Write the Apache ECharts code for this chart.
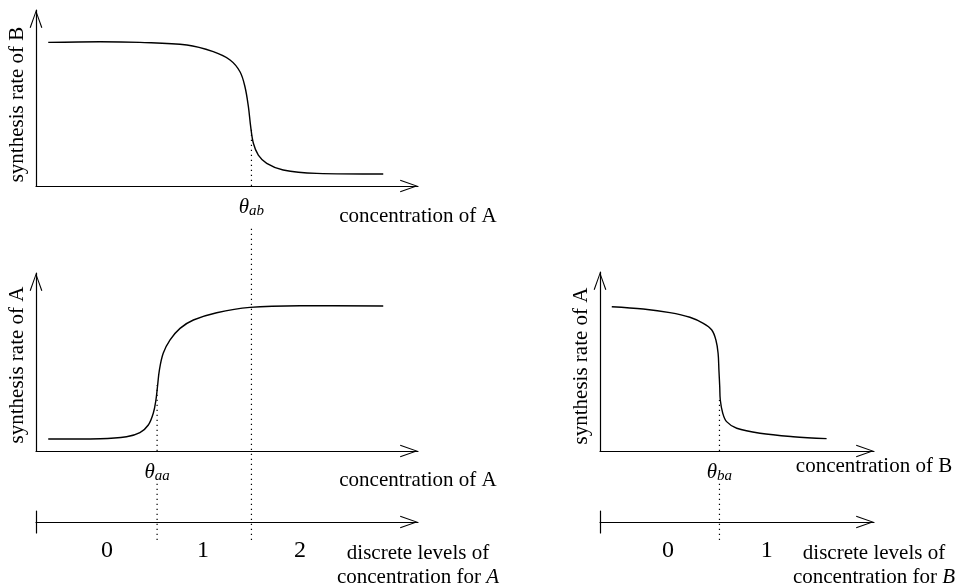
<!DOCTYPE html>
<html>
<head>
<meta charset="utf-8">
<script src="https://cdn.jsdelivr.net/npm/echarts@6/dist/echarts.min.js"></script>
<style>html,body{margin:0;padding:0;background:#fff}#c{width:964px;height:588px}</style>
</head>
<body>
<div id="c"></div>
<script>
// ---- data ----
// top: synthesis rate of B vs concentration of A
const topX = [0.32,1.68,2.72,3.95,4.64,5.08,5.34,5.47,5.56,5.62,5.69,5.82,6.04,6.47,7.35,9.09];
const topY = [8.16,8.20,8.16,8.01,7.63,7.16,6.49,5.64,4.51,3.37,2.43,1.76,1.29,0.91,0.72,0.68];
// middle-left: synthesis rate of A vs concentration of A
const midX = [0.32,1.68,2.37,2.72,2.94,3.07,3.14,3.18,3.23,3.33,3.51,3.77,4.12,4.73,5.60,6.91,9.09];
const midY = [0.67,0.69,0.80,1.03,1.46,2.12,2.87,3.61,4.55,5.49,6.24,6.89,7.36,7.77,8.07,8.16,8.15];
// right: synthesis rate of A vs concentration of B
const rightX = [0.43,1.58,2.55,3.28,3.77,4.08,4.23,4.31,4.34,4.37,4.39,4.48,4.62,4.99,5.84,7.05,8.27];
const rightY = [8.06,7.93,7.73,7.47,7.13,6.76,6.20,5.46,4.53,3.59,2.85,2.11,1.64,1.27,0.99,0.80,0.69];
// thresholds (x position) and the curve height where the dotted guide meets the curve
const thetaAB = 5.64, thetaAA = 3.17, thetaBA = 4.36;
const hAB = 3.35, hAA = 3.7, hBA = 2.85;
// discrete levels
const levelsA = ['0','1','2'];
const levelPosA = [1.86,4.37,6.91];
const levelsB = ['0','1'];
const levelPosB = [2.48,6.09];

const FONT = 'Liberation Serif';
const ARROW = 'path://M6.5,0 L13,18 L11.9,18.4 L6.5,2.9 L1.1,18.4 L0,18 Z';
const ARROW_SIZE = [13,18];
const ARROW_OFF = [0,-9];
const axisLineStyle = {color:'#000', width:1.2};
const curveStyle = {color:'#000', width:1.4};
const dotStyle = {color:'#000', width:1.2, type:[1.2,3.8]};

function pairs(xs, ys){ return xs.map((x,i)=>[x, ys[i]]); }

function plotX(idx, name, thetaVal, thetaSub, namePad){
  return {
    gridIndex: idx, type:'value', min:0, max:10,
    axisLine:{show:true, onZero:true, lineStyle:axisLineStyle, symbol:['none', ARROW], symbolSize:ARROW_SIZE, symbolOffset:ARROW_OFF},
    axisTick:{show:false}, splitLine:{show:false},
    axisLabel:{show:true, customValues:[thetaVal], margin:9,
      formatter: ()=> '{t|θ}{s|' + thetaSub + '}',
      rich:{ t:{fontFamily:FONT, fontStyle:'italic', fontSize:21, color:'#000'},
             s:{fontFamily:FONT, fontStyle:'italic', fontSize:15, color:'#000', padding:[9,0,0,0]} } },
    name: name, nameLocation:'end', nameGap:0,
    nameTextStyle:{fontFamily:FONT, fontSize:21, color:'#000', align:'center', verticalAlign:'top', padding:[namePad,0,0,0]}
  };
}
function plotY(idx, name, shift){
  return {
    gridIndex: idx, type:'value', min:0, max:10,
    axisLine:{show:true, lineStyle:axisLineStyle, symbol:['none', ARROW], symbolSize:ARROW_SIZE, symbolOffset:ARROW_OFF},
    axisTick:{show:false}, splitLine:{show:false}, axisLabel:{show:false},
    name: name, nameLocation:'middle', nameRotate:90, nameGap:8,
    nameTextStyle:{fontFamily:FONT, fontSize:21, color:'#000', padding:[0,shift,0,0]}
  };
}
function discreteX(idx, levels, pos, italicName){
  return {
    gridIndex: idx, type:'value', min:0, max:10,
    axisLine:{show:true, onZero:true, lineStyle:axisLineStyle, symbol:['none', ARROW], symbolSize:ARROW_SIZE, symbolOffset:ARROW_OFF},
    axisTick:{show:false}, splitLine:{show:false},
    axisLabel:{show:true, customValues:pos, margin:6, fontFamily:FONT, fontSize:24, color:'#000',
      formatter:(v)=> { const i = pos.indexOf(v); return i >= 0 ? levels[i] : ''; } },
    name: 'discrete levels of\n{n|concentration for }{i|' + italicName + '}', nameLocation:'end', nameGap:0,
    nameTextStyle:{fontFamily:FONT, fontSize:21, lineHeight:24, color:'#000', align:'center', verticalAlign:'top', padding:[19,0,0,0],
      rich:{ n:{fontFamily:FONT, fontSize:21, lineHeight:24, color:'#000'},
             i:{fontFamily:FONT, fontSize:21, lineHeight:24, fontStyle:'italic', color:'#000'} } }
  };
}
function discreteY(idx){
  return { gridIndex: idx, type:'value', min:-1, max:1,
    axisLine:{show:true, lineStyle:axisLineStyle}, axisTick:{show:false}, splitLine:{show:false}, axisLabel:{show:false} };
}
function hiddenAxis(idx){
  return { gridIndex: idx, type:'value', min:0, max:10, show:false };
}
function dotted(xi, yi, x, y0, y1){
  return { type:'line', xAxisIndex:xi, yAxisIndex:yi, data:[[x,y0],[x,y1]], symbol:'none', lineStyle:dotStyle, silent:true, clip:false, z:1 };
}
function curve(xi, yi, xs, ys){
  return { type:'line', xAxisIndex:xi, yAxisIndex:yi, data:pairs(xs,ys), symbol:'none', smooth:0.35, lineStyle:curveStyle, silent:true, z:3 };
}

const option = {
  animation:false,
  backgroundColor:'#fff',
  grid:[
    {left:36, top:10, width:382, height:176},   // 0 top plot
    {left:36, top:273, width:382, height:178},  // 1 middle-left plot
    {left:600, top:272, width:274, height:179}, // 2 right plot
    {left:36, top:511, width:382, height:24},   // 3 discrete A
    {left:600, top:511, width:274, height:24},  // 4 discrete B
    {left:36, top:226, width:382, height:314},  // 5 guide A
    {left:600, top:482, width:274, height:58}   // 6 guide B
  ],
  xAxis:[
    plotX(0, 'concentration of A', thetaAB, 'ab', 20),
    plotX(1, 'concentration of A', thetaAA, 'aa', 19),
    plotX(2, 'concentration of B', thetaBA, 'ba', 5),
    discreteX(3, levelsA, levelPosA, 'A'),
    discreteX(4, levelsB, levelPosB, 'B'),
    hiddenAxis(5), hiddenAxis(6)
  ],
  yAxis:[
    plotY(0, 'synthesis rate of B', 13),
    plotY(1, 'synthesis rate of A', 6),
    plotY(2, 'synthesis rate of A', 9),
    discreteY(3), discreteY(4),
    hiddenAxis(5), hiddenAxis(6)
  ],
  series:[
    curve(0,0, topX, topY),
    curve(1,1, midX, midY),
    curve(2,2, rightX, rightY),
    dotted(0,0, thetaAB, 0, hAB),
    dotted(1,1, thetaAA, 0, hAA),
    dotted(2,2, thetaBA, 0, hBA),
    dotted(5,5, thetaAB, 0, 10),
    dotted(5,5, thetaAA, 0, 1.9),
    dotted(6,6, thetaBA, 0, 10)
  ]
};
const chart = echarts.init(document.getElementById('c'), null, {renderer:'canvas'});
chart.setOption(option);
</script>
</body>
</html>
